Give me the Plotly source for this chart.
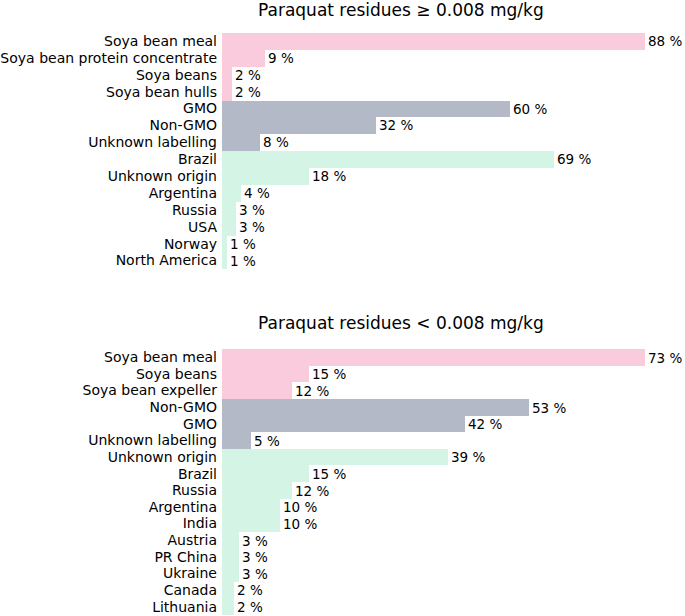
import plotly.graph_objects as go

# ---- data ----
top_title = "Paraquat residues \u2265 0.008 mg/kg"
top_categories = ["Soya bean meal", "Soya bean protein concentrate", "Soya beans", "Soya bean hulls",
                  "GMO", "Non-GMO", "Unknown labelling",
                  "Brazil", "Unknown origin", "Argentina", "Russia", "USA", "Norway", "North America"]
top_values = [88, 9, 2, 2, 60, 32, 8, 69, 18, 4, 3, 3, 1, 1]
top_groups = ["product"] * 4 + ["gmo"] * 3 + ["origin"] * 7

bottom_title = "Paraquat residues < 0.008 mg/kg"
bottom_categories = ["Soya bean meal", "Soya beans", "Soya bean expeller",
                     "Non-GMO", "GMO", "Unknown labelling",
                     "Unknown origin", "Brazil", "Russia", "Argentina", "India", "Austria",
                     "PR China", "Ukraine", "Canada", "Lithuania"]
bottom_values = [73, 15, 12, 53, 42, 5, 39, 15, 12, 10, 10, 3, 3, 3, 2, 2]
bottom_groups = ["product"] * 3 + ["gmo"] * 3 + ["origin"] * 10

group_colors = {"product": "#f9cbdc", "gmo": "#b4b9c8", "origin": "#d4f4e5"}

FONT = "DejaVu Sans"
W, H = 685, 616
L, R = 222, 40

fig = go.Figure()


def add_panel(cats, vals, groups, xa, ya):
    fig.add_trace(go.Bar(
        x=vals, y=cats, orientation="h",
        marker=dict(color=[group_colors[g] for g in groups], line=dict(width=0)),
        texttemplate="%{x} %", textposition="outside", cliponaxis=False,
        constraintext="none",
        textfont=dict(family=FONT, size=13.5, color="black"),
        xaxis=xa, yaxis=ya, showlegend=False, hoverinfo="x+y",
    ))


add_panel(top_categories, top_values, top_groups, "x", "y")
add_panel(bottom_categories, bottom_values, bottom_groups, "x2", "y2")


def ydom(top_px, bot_px):
    return [(H - bot_px) / H, (H - top_px) / H]


axis_common = dict(showgrid=False, zeroline=False, showline=False, ticks="", automargin=False)
ytick = dict(family=FONT, size=14, color="black")
fig.update_layout(
    width=W, height=H,
    margin=dict(l=L, r=R, t=0, b=0, autoexpand=False),
    paper_bgcolor="white", plot_bgcolor="white",
    bargap=0,
    font=dict(family=FONT, size=14, color="black"),
    xaxis=dict(domain=[0, 1], range=[0, max(top_values)], showticklabels=False, anchor="y", **axis_common),
    yaxis=dict(domain=ydom(32.5, 269), autorange="reversed", anchor="x",
               tickmode="array", tickvals=top_categories, ticktext=top_categories,
               tickfont=ytick, ticklabelstandoff=4, **axis_common),
    xaxis2=dict(domain=[0, 1], range=[0, max(bottom_values)], showticklabels=False, anchor="y2", **axis_common),
    yaxis2=dict(domain=ydom(349, 615), autorange="reversed", anchor="x2",
                tickmode="array", tickvals=bottom_categories, ticktext=bottom_categories,
                tickfont=ytick, ticklabelstandoff=4, **axis_common),
)

tx = (401 - L) / (W - L - R)
for title, ypx in [(top_title, 9.5), (bottom_title, 323)]:
    fig.add_annotation(text=title, xref="paper", yref="paper", x=tx, y=(H - ypx) / H,
                       xanchor="center", yanchor="middle", showarrow=False,
                       font=dict(family=FONT, size=17, color="black"))

fig.write_html("out.html", config={"displayModeBar": False},
               post_script="document.body.style.margin='0px';document.body.style.overflow='hidden';")
